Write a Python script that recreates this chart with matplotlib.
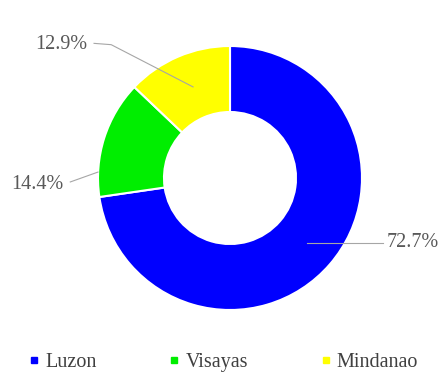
import matplotlib.pyplot as plt
from matplotlib.lines import Line2D

# island group shares
regions = ["Luzon", "Visayas", "Mindanao"]
shares = [72.7, 14.4, 12.9]
colors = ["#0000FF", "#00EE00", "#FFFF00"]

plt.rcParams["font.family"] = ["Liberation Serif", "DejaVu Serif"]

fig = plt.figure(figsize=(4.43, 3.76), dpi=100)
ax = fig.add_axes([98 / 443, 66 / 376, 264 / 443, 264 / 376])

ax.pie(shares, colors=colors, startangle=90, counterclock=False,
       radius=1.0, wedgeprops=dict(width=0.5, edgecolor="white", linewidth=1.5))
ax.set_xlim(-1, 1)
ax.set_ylim(-1, 1)
ax.set_aspect("equal")
ax.axis("off")

label_color = "#595959"
line_color = "#a6a6a6"

# data labels with leader lines: (text pos, line points, alignment)
label_specs = [
    ((1.19, -0.49), [(0.58, -0.49), (1.16, -0.49)], "left"),
    ((-1.26, -0.05), [(-1.21, -0.03), (-1.0, 0.045)], "right"),
    ((-1.08, 1.01), [(-1.03, 1.02), (-0.90, 1.01), (-0.28, 0.69)], "right"),
]
for val, (tpos, pts, ha) in zip(shares, label_specs):
    xs, ys = zip(*pts)
    ax.plot(xs, ys, color=line_color, lw=0.8, clip_on=False)
    ax.text(tpos[0], tpos[1], f"{val}%", ha=ha, va="center",
            fontsize=14.5, color=label_color, clip_on=False)

handles = [Line2D([0], [0], marker="s", linestyle="", markersize=4.5,
                  markerfacecolor=c, markeredgecolor=c) for c in colors]
fig.legend(handles, regions, loc="center", bbox_to_anchor=(0.505, 0.035),
           ncol=3, frameon=False, prop={"family": "Liberation Serif", "size": 14.5},
           handlelength=0.5, handletextpad=0.3, columnspacing=3.6,
           labelcolor="#404040")

fig.savefig("out.png", dpi=100)
